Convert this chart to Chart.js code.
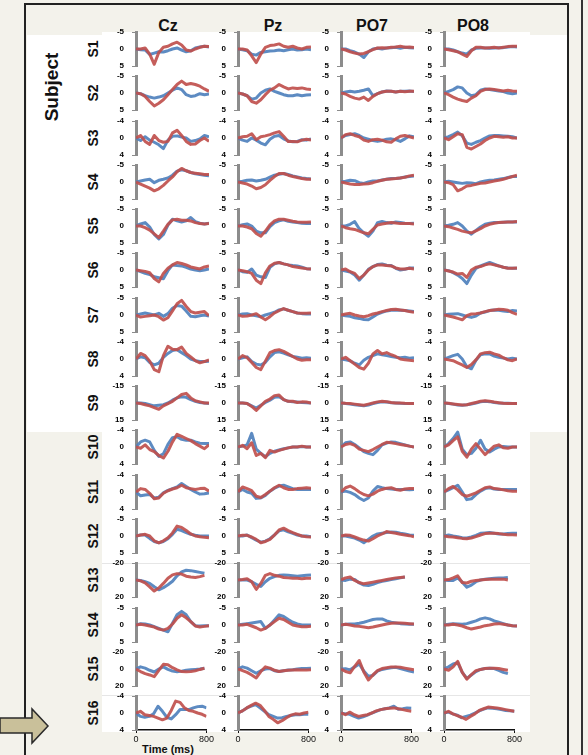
<!DOCTYPE html>
<html>
<head>
<meta charset="utf-8">
<script src="https://cdn.jsdelivr.net/npm/chart.js@4.4.0/dist/chart.umd.min.js"></script>
<style>
  body { margin: 0; width: 588px; height: 755px; background: #f3f2eb; position: relative; overflow: hidden;
         font-family: "Liberation Sans", Arial, sans-serif; }
  .abs { position: absolute; }
  canvas { position: absolute; }
  .rowlab { position: absolute; font-weight: bold; font-size: 14px; color: #111; white-space: nowrap;
            transform: translate(-50%, -50%) rotate(-90deg); }
  .head { position: absolute; font-weight: bold; font-size: 16px; color: #111; transform: translate(-50%, -50%); }
</style>
</head>
<body>
<div class="abs" style="left:27px;top:35px;width:540px;height:397px;background:#fff"></div>
<div class="abs" style="left:102px;top:32px;width:428px;height:4px;background:#fff"></div>
<div class="abs" style="left:102px;top:432px;width:428px;height:300px;background:#fff"></div>
<div class="abs" style="left:102px;top:563px;width:428px;height:1px;background:#e6e6e6"></div>
<div class="abs" style="left:102px;top:695px;width:428px;height:1px;background:#e6e6e6"></div>
<div class="abs" style="left:24px;top:3px;width:545px;height:760px;border:2px solid #222;border-bottom:none;box-sizing:border-box"></div>
<div class="abs" style="left:581px;top:0;width:2px;height:755px;background:#333"></div>

<div class="rowlab" style="left:52px;top:87px;font-size:19px">Subject</div>
<div class="head" style="left:168px;top:26px">Cz</div>
<div class="head" style="left:273px;top:26px">Pz</div>
<div class="head" style="left:372px;top:26px">PO7</div>
<div class="head" style="left:473px;top:26px">PO8</div>
<div class="head" style="left:168px;top:749px;font-size:11px">Time (ms)</div>

<svg class="abs" style="left:0;top:705px" width="52" height="44">
  <polygon points="0,13 32,13 32,4 48,21 32,38 32,28 0,28" fill="#c9c09a" stroke="#2a2a2a" stroke-width="1.5"/>
</svg>

<script>
// time axis (ms) and labels
const times = [0, 50, 100, 150, 200, 250, 300, 350, 400, 450, 500, 550, 600, 650, 700, 750, 800];
const xTickLabels = [0, 800];
const subjects = ["S1", "S2", "S3", "S4", "S5", "S6", "S7", "S8", "S9", "S10", "S11", "S12", "S13", "S14", "S15", "S16"];
const channels = ["Cz", "Pz", "PO7", "PO8"];
// y range per subject (negative up)
const yRange = [5, 5, 4, 5, 5, 5, 5, 4, 15, 4, 4, 5, 20, 5, 20, 4];

const redCz = [
  [0,0,-0.3,1.5,4.5,1.0,-0.5,-0.8,-1.5,-2,-1.2,0.3,0.6,0,-0.5,-0.8,-0.7],
  [0,0.2,1,2.5,3.8,3,2,0.5,-1,-2.5,-3.5,-2.5,-2.8,-2.5,-2,-1.2,-0.5],
  [0,-0.6,0.8,1.5,-0.6,0.6,1.0,0.8,-1.2,-1.8,-0.6,0.8,1.5,1.4,0.6,0,0.8],
  [0,0.6,1.2,1.8,2.6,2.0,1.0,-0.3,-1.5,-3.0,-4.0,-3.3,-2.8,-2.6,-2.4,-2.2,-2.2],
  [0,0,0.5,1.2,2.3,3.4,1.5,-0.5,-1.8,-2.0,-1.7,-1.7,-1.5,-1.0,-0.7,-0.6,-0.7],
  [0,0.2,0.4,0.8,2.5,3.5,1.0,-0.5,-1.5,-2.2,-1.9,-1.5,-0.9,-0.6,-0.3,-0.9,-1.2],
  [0,0.6,0.4,0.2,0,0.5,1.5,0.8,-1.2,-3.3,-4.3,-2.5,-1.0,-0.6,-0.8,-1.0,0.2],
  [0,-1.3,-0.8,0.5,2.5,3.0,-0.8,-3.0,-2.3,-2.2,-2.8,-1.3,-0.5,0.4,0.9,0.6,0.2],
  [0,0.5,1.5,2.5,4.0,5.5,2.5,0.5,-1.5,-4.5,-7.5,-8.5,-4.5,-2.0,-1.0,0,0],
  [0,0.3,-0.5,0.6,1.1,2.0,2.6,1.0,-1.2,-3.0,-2.5,-2.0,-1.5,-0.8,-0.2,0.4,-0.5],
  [0,-0.8,-0.6,0.3,1.6,1.4,0.3,-0.3,-0.7,-1.0,-1.6,-1.0,-0.8,-0.6,-0.8,-0.9,-0.2],
  [0,-0.3,-0.5,0,1.4,2.0,1.4,0.5,-0.9,-2.9,-2.5,-1.6,-0.6,0,0.2,0.4,0.5],
  [0,1.0,3.5,8.0,13,9.5,4.0,-2.0,-6.0,-7.5,-7.0,-4.5,-3.5,-3.0,-4.0,-5.5,null],
  [0,-0.2,0,0.3,0.6,1.2,1.5,1.0,-0.3,-2.0,-3.0,-2.1,-1.0,0.3,0.6,0.4,0.2],
  [0,3.0,5.5,7.0,9.0,1.5,-5.5,-5.0,-1.5,1.0,3.0,3.2,3.0,2.0,0.5,-0.8,null],
  [0,-0.4,0.4,0.6,0.8,1.2,1.6,1.2,-0.6,-2.8,-2.5,-1.2,-0.6,-0.4,0,0.3,0.8]
];
const blueCz = [
  [0,0.2,0.3,1.6,1.2,0.8,0.9,0.5,0,-0.3,0.3,0.8,0.5,-0.3,-0.6,-0.8,-0.6],
  [0,0.2,0.8,1.2,1.5,1.2,0.8,0,-0.8,-1.5,-1.0,0.5,1.0,0.8,0.2,0.5,0.3],
  [0,0.6,-0.3,0.5,1.0,1.6,2.5,0.5,-0.4,-0.5,-0.2,0,0.8,0.6,0.2,-0.6,-0.3],
  [0,-0.3,-0.6,-0.8,0.2,-0.5,-0.8,-1.2,-2.0,-3.2,-3.6,-3.3,-2.8,-2.4,-2.2,-2.0,-1.8],
  [0,-0.6,-1.0,0.3,2.5,3.8,2.5,-0.3,-2.0,-1.5,-1.2,-1.5,-2.5,-1.3,-0.8,-0.6,-0.8],
  [0,0.5,1.0,1.3,2.0,2.3,2.6,0.2,-1.5,-1.3,-1.2,-0.8,-0.3,0,0.2,0,-0.3],
  [0,-0.3,-0.6,-0.3,0,-0.5,0.4,-0.4,-2.0,-2.8,-2.6,-1.2,0.4,0.5,0.2,0,0.3],
  [0,-0.5,-0.3,0.8,1.4,1.0,-0.4,-1.3,-2.0,-2.2,-1.5,-0.8,0,0.4,0.6,0.6,0.5],
  [0,0,0.5,1.5,2.5,2.0,1.5,0,-2.5,-4.5,-5.5,-5.0,-3.0,-1.5,-0.5,0,0.5],
  [0,-1.2,-1.6,-1.2,0.8,2.2,1.6,-0.6,-2.2,-2.4,-1.8,-1.6,-1.6,-1.2,-0.9,-0.8,-0.8],
  [0,0.9,0.7,0.6,1.4,1.2,0.2,-0.4,-0.8,-1.2,-2.0,-1.3,-0.6,0,0.5,0.4,0.2],
  [0,-0.3,-0.3,0.7,1.6,2.0,1.6,0.8,-0.5,-2.0,-1.6,-1.0,-0.5,-0.2,0,0,0],
  [0,0.5,2.0,4.0,8.0,11.5,9.0,5.5,1.5,-5.0,-9.5,-11.5,-11,-10,-9,-8,null],
  [0,-0.4,-0.3,0,0.5,1.0,1.5,2.0,-0.5,-3.0,-4.0,-3.0,-1.0,0.2,0.3,0.2,0.2],
  [0,-2.5,-1.0,1.5,3.5,0,-2.5,0.5,2.5,3.2,2.5,1.5,1.0,0.5,0,-0.8,null],
  [0,0.8,1.0,0.8,0.2,-1.6,-0.4,1.0,1.4,0.4,-0.8,-0.8,-0.8,-1.2,-1.5,-1.6,-1.2]
];
const redPz = [
  [0,0,0.3,2.0,4.0,1.5,-0.5,-1.0,-1.2,-1.5,-0.8,-0.5,-0.8,-0.3,0,-0.5,-0.6],
  [0,0.3,0.8,2.5,3,2,0.5,-0.8,-1.5,-2.5,-1.8,-1.2,-1.5,-1.3,-1.5,-1.2,-1.0],
  [0,-0.3,-0.4,-1.0,0.4,-0.3,-0.5,-0.8,-1.2,-1.5,-0.4,0.8,0.8,0.9,0.5,0.3,0.5],
  [0,0.3,0.6,1.2,2.0,1.6,0.8,-0.5,-1.6,-2.5,-2.5,-2.0,-1.6,-1.3,-1.0,-0.8,-0.8],
  [0,0,0.3,0.8,2.2,3.0,1.5,-0.3,-1.5,-2.0,-2.0,-1.7,-1.4,-1.2,-1.1,-1.1,-1.2],
  [0,0.2,0.5,1.0,3.0,4.0,0.8,-1.2,-2.0,-2.2,-1.8,-1.5,-1.0,-0.8,-0.6,-0.4,-0.3],
  [0,0.4,0.3,0,-0.4,0.6,1.4,0.5,-0.6,-1.3,-1.9,-1.4,-1.0,-0.6,-0.5,-0.5,-0.6],
  [0,-0.8,-0.3,0.8,2.0,2.5,0.5,-1.5,-2.0,-2.2,-1.8,-1.2,-0.6,0,0.3,0.2,0.2],
  [0,0,0.5,3,6.5,2.5,-1.5,-3.5,-6.5,-7,-3,-1.5,-1.5,-0.5,-1,-0.8,0],
  [0,-0.4,0.4,-1.0,2.0,1.5,2.5,0.8,1.2,0.8,0.5,0.2,0,0,-0.2,0,0],
  [0,-1.2,-0.8,-0.3,1.0,1.3,0.6,-0.2,-1.0,-1.6,-1.0,-0.6,-0.6,-0.8,-0.9,-1.0,-0.9],
  [0,-0.2,-0.2,0.3,1.0,2.0,1.6,1.0,-0.3,-1.8,-2.3,-1.6,-1.0,-0.5,0,0.2,0.3],
  [0,-0.5,-1.5,2.0,11,4.0,-5.5,-7.5,-5.5,-4.5,-3.0,-2.5,-2.0,-2.0,-1.5,-2.0,-2.0],
  [0,0,-0.2,0.3,0.8,1.5,1.0,0,-1.0,-2.0,-1.6,-0.8,0,0.3,0.5,0.5,0.4],
  [0,2.0,4.0,7.0,10.5,3.0,-2.5,-1.0,1.5,3.0,2.0,1.5,1.2,1.0,1.2,1.2,1.0],
  [0,-0.5,-1.2,-1.8,-2.3,-1.8,-0.6,0.8,1.5,2.3,1.8,1.1,0.5,0.2,0.3,0,-0.2]
];
const bluePz = [
  [0,0.2,0.5,1.5,1.8,1.0,0.8,0.6,0.5,0.3,0.5,0.2,0,0.3,0.2,0,0.2],
  [0,0.3,0.8,1.8,1.5,0,-0.8,-1.2,-0.5,0,0.5,0.8,0.8,0.5,0.8,0.6,0.5],
  [0,0.5,0.8,0,0.5,1.2,1.6,0.3,-0.4,-0.6,0.2,0.7,0.9,0.8,0.4,0.5,0.2],
  [0,-0.2,-0.5,-0.6,-0.3,-0.5,-0.8,-1.4,-2.0,-2.3,-2.5,-2.2,-1.8,-1.5,-1.2,-1.0,-0.9],
  [0,-0.4,-0.6,0,1.5,2.0,2.0,0.2,-1.0,-1.5,-1.8,-1.4,-1.2,-1.0,-0.8,-0.7,-0.7],
  [0,0.5,0.7,-0.3,1.5,2.0,2.2,-0.8,-1.8,-2.2,-1.8,-1.5,-1.3,-1.2,-0.8,-0.4,-0.3],
  [0,-0.3,-0.4,0,0.2,0.5,0,-0.4,-0.8,-1.5,-1.8,-1.4,-1.0,-0.6,-0.4,-0.3,-0.3],
  [0,-0.3,-0.5,0.6,1.2,1.4,0.8,-0.5,-1.5,-1.7,-1.4,-1.0,-0.6,-0.4,-0.2,-0.3,-0.2],
  [0,0,0.5,2.5,4.5,2.0,-0.5,-2.5,-5.0,-5.5,-3.0,-1.5,-1.0,-0.8,-0.5,-0.3,0],
  [0,-0.2,-0.5,-3.2,0.5,1.5,2.3,1.5,1.0,0.7,0.4,0.2,0,0,-0.1,0,0],
  [0,-0.6,0,0.3,1.5,1.4,0.8,-0.2,-0.9,-1.4,-1.6,-1.2,-0.8,-0.6,-0.6,-0.6,-0.6],
  [0,0,-0.3,0.5,1.2,1.8,1.5,0.8,-0.3,-1.5,-1.8,-1.2,-0.8,-0.3,0,0,0.2],
  [0,0,0,2.0,5.0,7.5,2.0,-2.0,-4.0,-5.5,-6.0,-5.5,-5.0,-4.5,-5.0,-5.5,-6.0],
  [0,-0.2,-0.4,-0.6,-0.8,-1.0,1.0,0,-1.5,-3.0,-2.5,-1.6,-0.8,-0.3,0,0,0],
  [0,-2.5,-1.0,2.0,5.0,2.0,0,-0.5,2.0,3.0,2.0,1.2,0.8,0,-0.5,-0.5,-0.8],
  [0,-0.5,-1.2,-1.6,-2.0,-1.2,-0.4,0.4,0.8,1.2,1.1,0.8,0.6,0.4,0.4,0.3,0.3]
];
const redPO7 = [
  [0,0.3,0.8,1.2,1.5,1.3,0.8,0.2,-0.3,-0.4,-0.3,-0.5,-0.6,-0.8,-0.5,-0.6,-0.4],
  [0,0.3,1.0,1.5,1.8,1.2,2.2,1.0,0.2,-0.3,-0.5,-0.5,-0.3,-0.5,-0.4,-0.5,-0.5],
  [0,-0.8,-1.0,-0.6,-0.3,0.5,0.8,0.4,0.3,0.5,0.9,1.0,0.2,-0.4,-0.6,-0.3,0],
  [0,0.3,0.6,0.7,0.7,0.6,0.5,0.2,-0.2,-0.5,-0.8,-0.9,-1.0,-1.2,-1.4,-1.8,-2.0],
  [0,0.5,0.8,1.0,1.5,2.0,2.3,1.0,-0.3,-0.6,-0.8,-1.0,-0.9,-0.7,-0.7,-0.7,-0.6],
  [0,-0.3,0.5,1.0,2.5,1.5,0,-1.0,-1.5,-1.5,-1.3,-1.2,-0.6,-0.3,-0.3,-0.5,-0.3],
  [0,-0.3,-0.5,0,0.3,0.5,0.2,-0.3,-0.6,-1.0,-1.3,-1.6,-1.7,-1.5,-1.3,-1.0,-0.8],
  [0,-0.4,0.4,1.2,2.0,2.4,1.0,-1.2,-2.0,-1.2,-1.5,-1.0,-0.6,0,0.2,0.3,0.4],
  [0,0.3,0.5,1.0,1.5,2.0,1.0,0,-1.0,-1.5,-1.2,-0.5,0,0,0.3,0.5,0.5],
  [0,-0.6,-0.8,-0.4,0.5,0.8,1.1,0.6,0,-0.6,-1.1,-1.0,-0.8,-0.6,-0.4,-0.2,0],
  [0,-1.0,-1.4,-0.8,0,0.6,0.9,0.5,-0.2,-0.6,-0.9,-1.0,-0.6,-0.4,-0.7,-0.8,-0.8],
  [0,-0.3,-0.2,0.3,0.8,1.2,1.5,0.8,0,-0.6,-1.3,-1.0,-0.8,-0.5,-0.3,-0.1,0.2],
  [0,-2.5,-3.5,0.5,3.0,4.5,3.5,2.5,1.5,0.5,-0.5,-1.5,-2.5,-3.0,-3.5,null,null],
  [0,-0.2,0,0.3,0.4,0.6,0.8,0.6,0.3,0,-0.3,-0.5,-0.6,-0.6,-0.5,-0.4,-0.3],
  [0,3.0,4.5,-3.0,-10.0,3.5,13.0,7.0,2.0,-0.5,-1.5,-2.5,-2.5,-2.0,-1.0,0,1.0],
  [0,0.4,-0.2,0.4,0.8,0.6,0.4,0,-0.5,-0.8,-1.0,-1.1,-1.2,-1.0,-0.8,-0.6,-0.4]
];
const bluePO7 = [
  [0,0,0.5,0.9,1.5,2.5,0.8,0,-0.2,0,-0.3,-0.4,-0.5,-0.2,-0.5,-0.4,-0.3],
  [0,-0.3,-0.5,-0.3,-0.5,-0.8,-1.2,0.8,0.2,-0.3,-0.6,-0.5,-0.3,-0.5,-0.5,-0.6,-0.4],
  [0,-0.6,-0.8,-1.0,-0.6,0,0.3,0.6,0.8,0.6,0.3,0.2,0.4,0.8,0.2,-0.5,-0.3],
  [0,-0.2,-0.5,-0.4,0.2,0.4,0,-0.3,-0.3,-0.6,-0.8,-1.0,-1.0,-1.2,-1.5,-1.6,-1.8],
  [0,0,-0.5,-1.3,0.8,2.0,3.0,1.5,-1.0,-1.3,-1.0,-0.8,-1.2,-1.0,-0.8,-0.7,-0.8],
  [0,0.3,0.6,1.5,3.0,1.5,-0.2,-1.0,-1.6,-1.8,-1.4,-1.3,-0.5,0,-0.2,-0.6,-0.6],
  [0,0.2,0.4,0.8,1.0,1.3,1.4,0.6,-0.3,-0.8,-1.2,-1.4,-1.5,-1.4,-1.3,-1.2,-1.0],
  [0,0.2,0.4,1.0,1.4,0.3,-0.4,-0.8,-1.2,-1.0,-0.8,-0.6,-0.4,-0.3,-0.4,-0.2,-0.3],
  [0,0.5,1.0,1.5,2.0,2.5,1.8,0.5,-0.5,-1.0,-0.8,-0.3,0,0.3,0.5,0.5,0.5],
  [0,-1.0,-1.2,-0.6,0.2,1.1,1.5,1.8,0.8,-0.5,-0.9,-1.2,-1.1,-0.8,-0.5,-0.2,0],
  [0,-0.2,0.1,0.6,1.4,2.0,1.4,-0.2,-1.3,-1.0,-0.8,-0.7,-0.6,-0.6,-0.6,-0.5,-0.6],
  [0,0,0.3,0.6,1.2,2.0,1.0,0,-0.6,-0.8,-1.0,-1.2,-1.1,-0.8,-0.6,-0.3,-0.2],
  [0,0.5,-1.0,-0.5,3.5,6.0,6.5,5.0,3.0,1.5,0.5,-0.5,-1.5,-2.5,-3.5,null,null],
  [0,-0.2,-0.3,-0.3,-0.5,-0.8,-1.2,-1.6,-1.8,-1.8,-1.2,-0.8,-0.6,-0.4,-0.3,-0.2,-0.2],
  [0,-0.3,1.0,-2.5,-6.0,2.5,8.5,7.5,2.5,0.5,-0.5,-1.5,-2.0,-0.5,1.0,2.5,3.5],
  [0,0.2,0.3,0.8,1.2,0.9,0.5,0,-0.4,-0.8,-1.0,-1.2,-1.6,-0.9,-1.0,-1.2,-1.1]
];
const redPO8 = [
  [0,0.2,0.5,0.8,1.5,2.2,0.5,-0.5,-0.5,-0.3,-0.4,-0.5,-0.3,-0.5,-0.7,-0.8,-0.8],
  [0,0.5,1.2,1.8,2.2,2.5,1.5,0.8,-0.5,-1.0,-1.2,-1.0,-0.8,-0.6,-0.8,-0.6,-0.5],
  [0,0.4,-0.3,-1.0,-0.8,2.2,2.6,2.0,1.4,0.6,0,-0.4,-0.3,-0.2,-0.3,0,0],
  [0,0.2,0.8,2.6,2.0,1.2,1.0,0.7,0.4,0.3,0,-0.3,-0.5,-0.8,-1.2,-1.6,-2.0],
  [0,0.2,0.6,1.0,1.5,1.8,2.0,1.4,0.8,0,-0.5,-0.8,-1.0,-1.1,-1.2,-1.2,-1.3],
  [0,0.3,0.6,1.2,1.0,2.2,0,-0.8,-1.0,-1.5,-1.8,-1.5,-1.2,-0.8,-0.5,-0.5,-0.6],
  [0,0.3,0.6,1.0,1.4,0.2,-0.3,-0.4,-0.6,-1.0,-1.3,-1.5,-1.7,-1.6,-1.4,-0.7,-0.2],
  [0,0.2,0.4,0.9,1.4,2.0,1.3,0.2,-1.2,-1.5,-1.6,-1.2,-0.9,-0.3,0.2,0.4,0],
  [0,0.3,0.8,1.3,1.8,1.5,0.5,-0.5,-1.5,-2.0,-1.5,-0.8,-0.3,0.3,0.5,0.5,0.5],
  [0,-0.5,-1.5,-2.4,1.0,2.4,0.5,-0.8,0.5,1.8,0.8,-0.2,-0.5,0.2,0.3,0,0],
  [0,-0.8,-1.3,-0.5,0.6,1.0,0.6,0.2,-0.4,-1.0,-1.2,-0.8,-0.7,-0.5,-0.3,-0.2,-0.2],
  [0,0.2,0.3,0.5,0.7,0.8,0.6,0.2,-0.3,-0.7,-0.8,-0.8,-0.7,-0.5,-0.4,-0.4,-0.3],
  [0,-0.5,-2.5,-5.0,3.0,3.5,1.5,0.5,0,-0.5,-1.0,-1.0,-1.0,-1.0,0,null,null],
  [0,0,-0.2,0,0.3,0.8,1.2,0.9,0.6,0.2,0,-0.3,-0.4,-0.2,0,0.2,0.3],
  [0,1.5,-2.5,-9.0,4.0,12.0,6.5,2.0,0.5,-0.5,-0.8,-1.0,-0.5,0.5,1.5,null,null],
  [0,-0.4,0.2,0.6,1.0,1.5,0.8,0.2,-0.6,-1.0,-1.4,-1.3,-1.2,-1.0,-0.8,-0.6,-0.4]
];
const bluePO8 = [
  [0,0,0.3,0.8,1.2,1.5,0.3,-0.2,-0.3,-0.3,-0.2,-0.3,-0.4,-0.4,-0.6,-0.7,-0.6],
  [0,-0.5,-1.0,-1.8,-1.5,0,0.8,0.5,-0.8,-1.2,-1.0,-0.8,-0.6,-0.4,0,0.2,0],
  [0,-0.3,-0.8,-1.4,-0.5,1.2,1.5,1.0,0.6,0,-0.5,-0.6,-0.6,-0.5,-0.4,-0.3,0],
  [0,-0.2,0,0.2,0.4,0.2,0.3,0.5,0,-0.3,-0.5,-0.6,-0.8,-1.0,-1.3,-1.6,-1.6],
  [0,-0.2,-0.5,-1.0,0,1.5,2.4,1.3,0.3,-0.5,-0.8,-1.0,-1.0,-1.1,-1.2,-1.2,-1.2],
  [0,0.2,0.8,1.5,2.5,4.0,1.5,-0.5,-1.2,-1.7,-2.2,-1.7,-1.2,-0.8,-0.6,-0.5,-0.5],
  [0,-0.2,-0.3,-0.4,0,0.4,0.7,0.3,-0.6,-0.9,-1.3,-1.5,-1.4,-1.2,-1.0,-1.3,-1.2],
  [0,-0.4,-0.8,-1.1,0,1.8,2.3,0.3,-1.0,-1.2,-1.2,-0.7,-0.4,-0.2,0,-0.2,0],
  [0,0.5,1.0,1.8,2.0,1.5,0.8,0,-1.0,-1.5,-1.2,-0.5,0,0.3,0.3,0.5,0.5],
  [0,-0.8,-2.0,-3.5,0.5,1.8,1.5,0.3,-1.6,0.5,1.2,0.5,0,-0.1,0,0,0],
  [0,-0.5,-1.0,-1.6,0,1.8,1.6,0.6,-0.2,-0.8,-1.0,-0.7,-0.6,-0.6,-0.6,-0.6,-0.6],
  [0,-0.3,0,0.2,0.5,0.6,0.3,-0.2,-0.8,-0.9,-1.0,-0.8,-0.6,-0.6,-0.7,-0.8,-0.8],
  [0,0.5,0.5,-2.5,2.5,8.5,6.0,2.0,0,-1.0,-1.5,-2.0,-2.5,-2.5,-3.0,null,null],
  [0,-0.2,-0.4,-0.3,-0.2,-0.4,-0.8,-1.2,-1.8,-2.1,-1.8,-1.2,-0.8,-0.4,0,0.2,0.3],
  [0,-2.5,-6.0,-7.5,4.0,11.0,7.0,3.0,0.5,-0.5,-1.0,-0.5,1.5,4.0,5.5,null,null],
  [0,-0.2,0.2,0.5,1.1,0.8,0.5,0,-0.5,-0.9,-1.2,-1.1,-1.0,-0.8,-0.6,-0.5,-0.4]
];

const series = {
  Cz: [redCz, blueCz],
  Pz: [redPz, bluePz],
  PO7: [redPO7, bluePO7],
  PO8: [redPO8, bluePO8]
};

Chart.defaults.font.family = '"Liberation Sans", Arial, sans-serif';

const colZero = [136, 238, 341, 444]; // x pixel of 0 ms in each column
const plotW = 73;
const axisW = 32;
const row0 = 49, rowStep = 44.27, halfH = 17;
const GRAY = "#8c8c8c";

function xy(vals) {
  return times.map((t, i) => ({ x: t, y: vals[i] }));
}

// row labels
subjects.forEach((s, r) => {
  const d = document.createElement("div");
  d.className = "rowlab";
  d.textContent = s;
  d.style.left = "93px";
  d.style.top = Math.round(row0 + r * rowStep) + "px";
  document.body.appendChild(d);
});

channels.forEach((ch, c) => {
  const [red, blue] = series[ch];
  subjects.forEach((s, r) => {
    const last = r === subjects.length - 1;
    const R = yRange[r];
    const cv = document.createElement("canvas");
    cv.width = axisW + plotW + 6;
    cv.height = last ? 5 + 2 * halfH + 16 : 2 * halfH + 10;
    cv.style.left = (colZero[c] - axisW) + "px";
    cv.style.top = Math.round(row0 + r * rowStep - halfH - 5) + "px";
    document.body.appendChild(cv);

    new Chart(cv, {
      type: "line",
      data: {
        datasets: [
          { label: "red", data: xy(red[r]), borderColor: "rgba(192,80,77,0.92)", borderWidth: 3 },
          { label: "blue", data: xy(blue[r]), borderColor: "rgba(79,129,189,0.92)", borderWidth: 3 }
        ]
      },
      options: {
        responsive: false,
        animation: false,
        events: [],
        layout: { padding: { top: 5, bottom: last ? 0 : 5, left: 0, right: 6 } },
        elements: { point: { radius: 0 }, line: { tension: 0, borderJoinStyle: "round" } },
        plugins: { legend: { display: false }, tooltip: { enabled: false } },
        scales: {
          x: {
            type: "linear",
            min: 0,
            max: 800,
            display: last,
            afterFit: (sc) => { sc.height = last ? 16 : 0; },
            border: { color: "#111", width: 1.5 },
            grid: { drawOnChartArea: false, tickLength: 3, color: "#111" },
            ticks: {
              stepSize: 800,
              maxRotation: 0,
              padding: 1,
              color: "#111",
              font: { size: 9 },
              callback: (v) => (xTickLabels.includes(v) ? String(v) : "")
            }
          },
          y: {
            reverse: true,
            min: -R,
            max: R,
            afterFit: (sc) => { sc.width = axisW; sc.paddingTop = 0; sc.paddingBottom = 0; },
            border: { color: GRAY, width: 3 },
            grid: {
              drawOnChartArea: false,
              tickLength: 4,
              color: (ctx) => (ctx.tick && ctx.tick.value === 0 ? "rgba(0,0,0,0)" : GRAY)
            },
            ticks: { stepSize: R, padding: 8, autoSkip: false, color: "#000", font: { size: 8, weight: "bold" } }
          }
        }
      }
    });
  });
});
</script>
</body>
</html>
